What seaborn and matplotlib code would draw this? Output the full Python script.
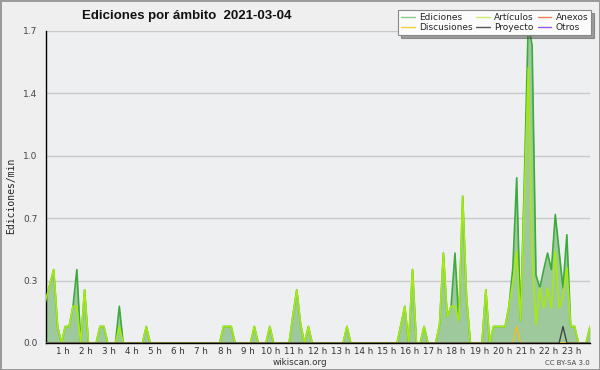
import numpy as np
import pandas as pd
import matplotlib
matplotlib.use("Agg")
import matplotlib.pyplot as plt
from matplotlib.lines import Line2D
from matplotlib.ticker import FixedLocator, MultipleLocator
import seaborn as sns

# edits per minute, one value every 10 minutes (index 0 = 00:00)
ediciones = [
    0.15, 0.24, 0.32, 0.40, 0.09, 0.00, 0.09, 0.09, 0.20, 0.40, 0.00, 0.29,
    0.00, 0.00, 0.00, 0.09, 0.09, 0.00, 0.00, 0.00, 0.20, 0.00, 0.00, 0.00,
    0.00, 0.00, 0.00, 0.09, 0.00, 0.00, 0.00, 0.00, 0.00, 0.00, 0.00, 0.00,
    0.00, 0.00, 0.00, 0.00, 0.00, 0.00, 0.00, 0.00, 0.00, 0.00, 0.00, 0.09,
    0.09, 0.09, 0.00, 0.00, 0.00, 0.00, 0.00, 0.09, 0.00, 0.00, 0.00, 0.09,
    0.00, 0.00, 0.00, 0.00, 0.00, 0.15, 0.29, 0.10, 0.00, 0.09, 0.00, 0.00,
    0.00, 0.00, 0.00, 0.00, 0.00, 0.00, 0.00, 0.09, 0.00, 0.00, 0.00, 0.00,
    0.00, 0.00, 0.00, 0.00, 0.00, 0.00, 0.00, 0.00, 0.00, 0.10, 0.20, 0.00,
    0.40, 0.00, 0.00, 0.09, 0.00, 0.00, 0.00, 0.10, 0.49, 0.14, 0.20, 0.49,
    0.12, 0.80, 0.25, 0.00, 0.00, 0.00, 0.00, 0.29, 0.00, 0.09, 0.09, 0.09,
    0.09, 0.20, 0.41, 0.90, 0.12, 0.90, 1.75, 1.62, 0.37, 0.30, 0.40, 0.49,
    0.40, 0.70, 0.50, 0.30, 0.59, 0.09, 0.09, 0.00, 0.00, 0.00, 0.09,
]
articulos = [
    0.15, 0.24, 0.32, 0.40, 0.09, 0.00, 0.09, 0.09, 0.20, 0.20, 0.00, 0.29,
    0.00, 0.00, 0.00, 0.09, 0.09, 0.00, 0.00, 0.00, 0.09, 0.00, 0.00, 0.00,
    0.00, 0.00, 0.00, 0.09, 0.00, 0.00, 0.00, 0.00, 0.00, 0.00, 0.00, 0.00,
    0.00, 0.00, 0.00, 0.00, 0.00, 0.00, 0.00, 0.00, 0.00, 0.00, 0.00, 0.09,
    0.09, 0.09, 0.00, 0.00, 0.00, 0.00, 0.00, 0.09, 0.00, 0.00, 0.00, 0.09,
    0.00, 0.00, 0.00, 0.00, 0.00, 0.15, 0.29, 0.10, 0.00, 0.09, 0.00, 0.00,
    0.00, 0.00, 0.00, 0.00, 0.00, 0.00, 0.00, 0.09, 0.00, 0.00, 0.00, 0.00,
    0.00, 0.00, 0.00, 0.00, 0.00, 0.00, 0.00, 0.00, 0.00, 0.10, 0.20, 0.00,
    0.40, 0.00, 0.00, 0.09, 0.00, 0.00, 0.00, 0.10, 0.49, 0.14, 0.20, 0.20,
    0.12, 0.80, 0.25, 0.00, 0.00, 0.00, 0.00, 0.29, 0.00, 0.09, 0.09, 0.09,
    0.09, 0.20, 0.33, 0.50, 0.12, 0.80, 1.50, 0.50, 0.10, 0.30, 0.19, 0.30,
    0.19, 0.50, 0.19, 0.25, 0.41, 0.09, 0.09, 0.00, 0.00, 0.00, 0.09,
]
# sparse namespaces: (bin index, value)
discusiones_bins = [122, 123, 124]
discusiones_vals = [0.0, 0.09, 0.0]
proyecto_bins = [134, 135, 136]
proyecto_vals = [0.0, 0.09, 0.0]

legend_labels = ["Ediciones", "Discusiones", "Artículos", "Proyecto", "Anexos", "Otros"]
legend_colors = ["#88cc88", "#f2cf3c", "#cdee6a", "#555555", "#f08050", "#9955ee"]
hour_labels = [f"{h} h" for h in range(1, 24)]

t = np.arange(len(ediciones)) / 6.0
df = pd.DataFrame({"hora": t, "Ediciones": ediciones, "Artículos": articulos})

disc = np.zeros(len(t))
disc[discusiones_bins] = discusiones_vals
proy = np.zeros(len(t))
proy[proyecto_bins] = proyecto_vals
df["Discusiones"] = disc
df["Proyecto"] = proy

sns.set_style("white")
plt.rcParams["font.family"] = ["DejaVu Sans"]

fig = plt.figure(figsize=(6, 3.7), dpi=100, facecolor="#efefef",
                 edgecolor="#9a9a9a", linewidth=2)
ax = fig.add_axes([46 / 600, 27 / 370, 544 / 600, 312 / 370])
ax.set_facecolor("#eeeff1")

ymax = 1.7
yticks = np.round(np.arange(0, ymax + 0.001, 0.34), 2)
for y in yticks[1:]:
    ax.axhline(y, color="#c9c9c9", lw=1, zorder=0)

ax.fill_between(df["hora"], df["Ediciones"], color="#9dc99d", lw=0, zorder=1)
sns.lineplot(data=df, x="hora", y="Ediciones", color="#3daa3d", lw=1.2, ax=ax, zorder=2)
sns.lineplot(data=df, x="hora", y="Artículos", color="#a6ea12", lw=1.2, ax=ax, zorder=3)
sns.lineplot(data=df, x="hora", y="Discusiones", color="#f0c020", lw=1.0, ax=ax, zorder=4)
sns.lineplot(data=df, x="hora", y="Proyecto", color="#444444", lw=1.0, ax=ax, zorder=4)

ax.set_xlim(1 / 6, 142 / 6)
ax.set_ylim(0, ymax)

ax.xaxis.set_major_locator(FixedLocator(np.arange(1, 24) - 0.12))
ax.set_xticklabels(hour_labels)
ax.xaxis.set_minor_locator(MultipleLocator(1 / 6))
ax.set_yticks(yticks)
ax.set_yticklabels([f"{v:.1f}" for v in yticks])
ax.yaxis.set_minor_locator(MultipleLocator(0.085))

ax.tick_params(axis="both", which="both", direction="out", color="black", width=1)
ax.tick_params(axis="x", which="major", length=0, pad=3, labelsize=6.3, labelcolor="#333333")
ax.tick_params(axis="x", which="minor", length=4)
ax.tick_params(axis="y", which="major", length=5, pad=1, labelsize=6.5, labelcolor="#444444")
ax.tick_params(axis="y", which="minor", length=3)

for s in ["top", "right"]:
    ax.spines[s].set_visible(False)
for s in ["left", "bottom"]:
    ax.spines[s].set_color("black")
    ax.spines[s].set_linewidth(1)

ax.set_xlabel("")
ax.set_ylabel("")
fig.text(0.018, 0.47, "Ediciones/min", rotation=90, ha="center", va="center",
         fontsize=7, family="DejaVu Sans Mono", color="#222222")
fig.text(0.312, 0.958, "Ediciones por ámbito  2021-03-04", ha="center", va="center",
         fontsize=9.5, fontweight="bold", family="Liberation Sans", color="#111111")
fig.text(0.5, 0.019, "wikiscan.org", ha="center", va="center", fontsize=6.3, color="#333333")
fig.text(0.983, 0.019, "CC BY-SA 3.0", ha="right", va="center", fontsize=5, color="#444444")

handles = [Line2D([0], [0], color=c, lw=1) for c in legend_colors]
leg = fig.legend(handles, legend_labels, ncol=3, loc="upper right",
                 bbox_to_anchor=(591 / 600, 1 - 10 / 370), fontsize=6.5,
                 frameon=True, fancybox=False, shadow=True, handlelength=1.5,
                 handletextpad=0.5, columnspacing=0.4, labelspacing=0.15,
                 borderpad=0.3, borderaxespad=0)
leg.get_frame().set_facecolor("#fbfbfb")
leg.get_frame().set_edgecolor("#888888")
leg.get_frame().set_linewidth(0.8)

plt.savefig("out.png", dpi=100, facecolor=fig.get_facecolor(), edgecolor=fig.get_edgecolor())
plt.close()
